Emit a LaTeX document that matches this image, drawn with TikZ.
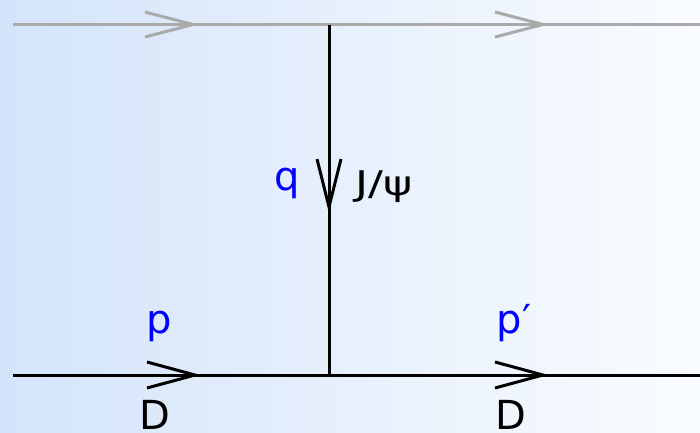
\documentclass[tikz,border=0pt]{standalone}
\usepackage{fontspec}
\usepackage{graphicx}
\setmainfont{DejaVu Sans}
\usetikzlibrary{calc}
\begin{document}
\begin{tikzpicture}[x=1pt,y=-1pt,
  lbl/.style={inner sep=0pt, anchor=base, font=\fontsize{40}{40}\selectfont},
  blbl/.style={lbl, text={rgb,255:red,0;green,0;blue,255}},
  gline/.style={line width=3pt, color={rgb,255:red,170;green,170;blue,170}},
  kline/.style={line width=3pt, color=black},
  chev/.style={line join=miter, miter limit=20}]
\shade[left color={rgb,255:red,212;green,228;blue,250}, right color={rgb,255:red,250;green,252;blue,255}] (0,0) rectangle (700,432);
\useasboundingbox (0,0) rectangle (700,432);
% coordinates
\coordinate (tl) at (13,24.5);
\coordinate (tr) at (700,24.5);
\coordinate (tv) at (329,24.5);
\coordinate (bl) at (13,375);
\coordinate (br) at (700,375);
\coordinate (bv) at (329,375);
\coordinate (ta1) at (193,24.5);
\coordinate (ta2) at (543,24.5);
\coordinate (ba1) at (195,375);
\coordinate (ba2) at (543,375);
\coordinate (va) at (329,207);
% lines
\draw[gline] (tl) -- (tr);
\draw[kline] (bl) -- (br);
\draw[kline] (tv) -- (bv);
% arrowheads
\draw[gline,chev] ($(ta1)+(-48,-12.5)$) -- (ta1) -- ($(ta1)+(-48,12.5)$);
\draw[gline,chev] ($(ta2)+(-48,-12.5)$) -- (ta2) -- ($(ta2)+(-48,12.5)$);
\draw[kline,chev] ($(ba1)+(-48,-13)$) -- (ba1) -- ($(ba1)+(-48,13)$);
\draw[kline,chev] ($(ba2)+(-48,-13)$) -- (ba2) -- ($(ba2)+(-48,13)$);
\draw[kline,chev] ($(va)+(-12,-48)$) -- (va) -- ($(va)+(12,-48)$);
% labels
\node[blbl] (q) at (287,190) {q};
\node[lbl, anchor=base west, font=\fontsize{34}{34}\selectfont] (jpsi) at (355,195) {\scalebox{1.3}[1]{J/ψ}};
\node[blbl] (p) at (159,333) {p};
\node[blbl] (pp) at (514,333) {p′};
\node[lbl] (d1) at (155,429) {D};
\node[lbl] (d2) at (511,429) {D};
\end{tikzpicture}
\end{document}
